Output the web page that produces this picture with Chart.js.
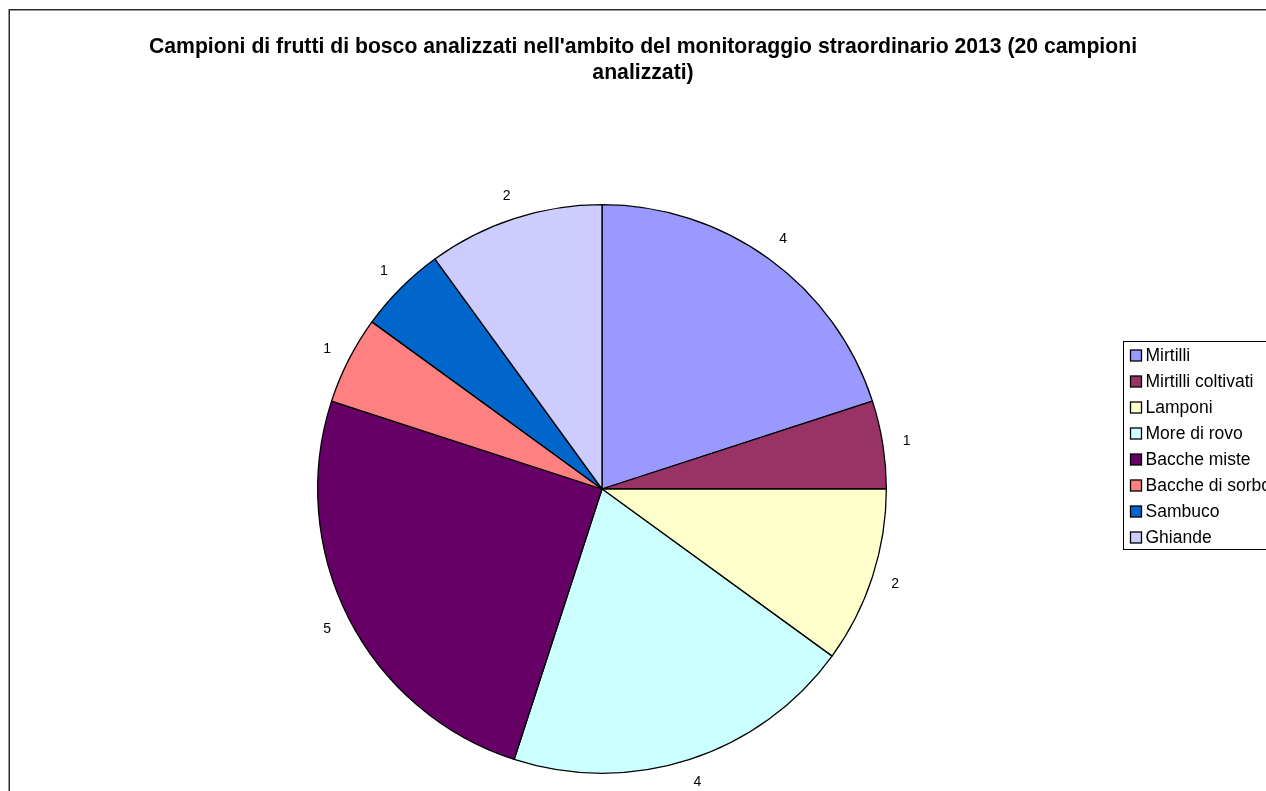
<!DOCTYPE html>
<html>
<head>
<meta charset="utf-8">
<script src="https://cdn.jsdelivr.net/npm/chart.js@4.4.1/dist/chart.umd.min.js"></script>
<style>
  html, body { margin: 0; padding: 0; background: #fff; overflow: hidden; }
  #wrap { position: relative; width: 1266px; height: 791px; }
  canvas { display: block; }
</style>
</head>
<body>
<div id="wrap"><canvas id="c" width="1266" height="791"></canvas></div>
<script>
const categories = ["Mirtilli", "Mirtilli coltivati", "Lamponi", "More di rovo", "Bacche miste", "Bacche di sorbo", "Sambuco", "Ghiande"];
const sampleCounts = [4, 1, 2, 4, 5, 1, 1, 2];
const sliceColors = ["#9999FF", "#993366", "#FFFFCC", "#CCFFFF", "#660066", "#FF8080", "#0066CC", "#CCCCFF"];
const titleLines = ["Campioni di frutti di bosco analizzati nell'ambito del monitoraggio straordinario 2013 (20 campioni", "analizzati)"];

const FONT = "'Liberation Sans', Arial, Helvetica, sans-serif";

const decorPlugin = {
  id: 'decor',
  beforeDraw(chart) {
    const ctx = chart.ctx;
    ctx.save();
    ctx.fillStyle = '#ffffff';
    ctx.fillRect(0, 0, chart.width, chart.height);
    ctx.strokeStyle = '#2b2b2b';
    ctx.lineWidth = 1.5;
    ctx.strokeRect(9.25, 9.75, 1268, 800);
    ctx.restore();
  },
  afterDraw(chart) {
    const ctx = chart.ctx;
    ctx.save();
    // Title
    ctx.fillStyle = '#000';
    ctx.font = 'bold 21.2px ' + FONT;
    ctx.textAlign = 'center';
    ctx.textBaseline = 'middle';
    titleLines.forEach((t, i) => ctx.fillText(t, 643, 47 + i * 26));

    // Data labels, from arc geometry
    const meta = chart.getDatasetMeta(0);
    const ds = chart.data.datasets[0];
    ctx.font = '14px ' + FONT;
    ctx.fillStyle = '#000';
    meta.data.forEach((arc, i) => {
      const p = arc.getProps(['x', 'y', 'startAngle', 'endAngle', 'outerRadius'], true);
      const mid = (p.startAngle + p.endAngle) / 2;
      const r = p.outerRadius + 24;
      ctx.fillText(String(ds.data[i]), p.x + Math.cos(mid) * r, p.y + Math.sin(mid) * r);
    });

    // Legend
    const lx = 1123.5, ly = 341.5, lw = 170, rowH = 26;
    const lh = 208;
    ctx.strokeStyle = '#000';
    ctx.lineWidth = 1;
    ctx.strokeRect(lx, ly, lw, lh);
    ctx.textAlign = 'left';
    ctx.font = '17.5px ' + FONT;
    chart.data.labels.forEach((lab, i) => {
      const cy = ly + 14 + i * rowH;
      ctx.fillStyle = ds.backgroundColor[i];
      ctx.fillRect(lx + 7, cy - 5.5, 11, 11);
      ctx.strokeStyle = '#000';
      ctx.lineWidth = 1.3;
      ctx.strokeRect(lx + 7, cy - 5.5, 11, 11);
      ctx.fillStyle = '#000';
      ctx.fillText(lab, lx + 22, cy + 1);
    });
    ctx.restore();
  }
};

new Chart(document.getElementById('c'), {
  type: 'pie',
  data: {
    labels: categories,
    datasets: [{
      data: sampleCounts,
      backgroundColor: sliceColors,
      borderColor: '#000000',
      borderWidth: 1.3,
      hoverOffset: 0
    }]
  },
  options: {
    responsive: false,
    animation: false,
    devicePixelRatio: 1,
    layout: { padding: { left: 317, right: 379, top: 204, bottom: 17 } },
    plugins: {
      legend: { display: false },
      title: { display: false },
      tooltip: { enabled: false }
    }
  },
  plugins: [decorPlugin]
});
</script>
</body>
</html>
